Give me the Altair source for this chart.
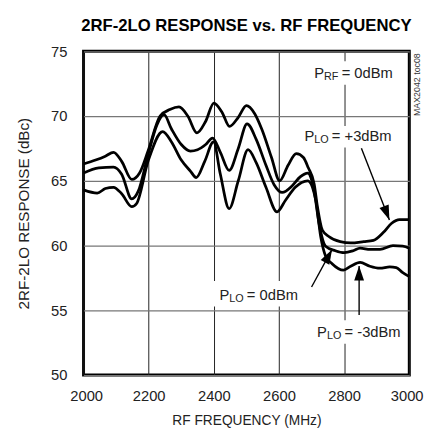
import altair as alt
import pandas as pd

# ---- data ----
freq_p3 = [2000, 2037, 2067, 2092, 2117, 2148, 2172, 2198, 2235, 2265, 2293, 2320, 2348, 2375, 2400,
           2425, 2448, 2475, 2500, 2525, 2547, 2577, 2602, 2628, 2653, 2675, 2690, 2708, 2718, 2733,
           2753, 2788, 2820, 2860, 2890, 2920, 2945, 2970, 3000]
resp_p3 = [66.3, 66.6, 66.9, 67.2, 66.5, 65.1, 65.6, 67.3, 70.0, 70.5, 70.7, 70.0, 68.7, 69.6, 71.0,
           70.3, 69.2, 69.9, 70.8, 70.2, 69.0, 66.8, 65.0, 66.2, 67.1, 66.8, 66.0, 64.75, 63.0, 61.2,
           60.7, 60.3, 60.2, 60.3, 60.4, 61.0, 61.7, 62.0, 62.0]

freq_0 = [2000, 2047, 2092, 2117, 2148, 2168, 2198, 2225, 2247, 2270, 2300, 2328, 2350, 2375, 2396,
          2420, 2447, 2475, 2502, 2530, 2560, 2585, 2610, 2640, 2665, 2688, 2708, 2723, 2743, 2773,
          2800, 2828, 2849, 2880, 2910, 2950, 2980, 3000]
resp_0 = [65.6, 66.0, 66.05, 65.5, 63.6, 64.2, 67.0, 69.3, 70.1, 69.0, 67.8, 67.3, 67.4, 67.8, 68.3,
          67.2, 65.8, 67.5, 69.4, 68.2, 66.2, 64.7, 64.1, 64.6, 65.3, 65.6, 64.2, 61.7, 59.95, 59.6,
          59.45, 59.6, 59.8, 59.7, 59.7, 60.0, 59.95, 59.8]

freq_m3 = [2000, 2042, 2067, 2092, 2117, 2148, 2163, 2198, 2243, 2270, 2300, 2328, 2346, 2372, 2399,
           2420, 2447, 2475, 2505, 2530, 2560, 2594, 2620, 2650, 2688, 2713, 2728, 2743, 2763, 2798,
           2820, 2849, 2879, 2910, 2940, 2960, 2980, 3000]
resp_m3 = [64.3, 64.05, 64.4, 64.5, 64.0, 63.0, 63.25, 66.5, 68.8, 68.0, 66.6, 65.75, 65.25, 66.5, 68.0,
           65.5, 62.85, 65.0, 67.4, 66.4, 64.5, 62.6, 63.5, 64.5, 65.0, 63.5, 60.7, 59.2, 58.6, 58.1,
           58.4, 58.7, 58.4, 58.25, 58.35, 58.3, 57.9, 57.6]

x_ticks = [2000, 2200, 2400, 2600, 2800, 3000]
y_ticks = [50, 55, 60, 65, 70, 75]

rows = []
for name, fs, vs in [("+3dBm", freq_p3, resp_p3), ("0dBm", freq_0, resp_0), ("-3dBm", freq_m3, resp_m3)]:
    rows += [{"series": name, "freq": f, "resp": v} for f, v in zip(fs, vs)]
df = pd.DataFrame(rows)

# annotations
labels = pd.DataFrame({
    "x": [2708, 2678, 2417, 2717],
    "y": [73.33, 68.48, 56.14, 53.33],
    "p": ["P", "P", "P", "P"],
    "sub": ["RF", "LO", "LO", "LO"],
    "rest": ["= 0dBm", "= +3dBm", "= 0dBm", "= -3dBm"],
})
label_bg = pd.DataFrame({
    "x": [2702, 2672, 2392, 2708],
    "x2": [2946, 2946, 2660, 2979],
    "y": [74.24, 69.24, 57.27, 54.24],
    "y2": [72.42, 67.58, 55.30, 52.42],
})
arrows = pd.DataFrame({
    "x0": [2853, 2700, 2846],
    "y0": [67.52, 56.8, 54.64],
    "x1": [2939, 2763, 2846],
    "y1": [61.97, 59.7, 58.43],
    "angle": [158.8, 28.7, 0.0],
})

FONT = "Liberation Sans, Arial, Helvetica, sans-serif"
TXT = "#222222"

xs = alt.Scale(domain=[2000, 3000], nice=False, zero=False)
ys = alt.Scale(domain=[50, 75], nice=False, zero=False)

x_axis = alt.Axis(title="RF FREQUENCY (MHz)", values=x_ticks, format="d", labelPadding=14,
                  labelFlush=True, labelFlushOffset=14, labelOverlap=False,
                  titlePadding=10, titleFontSize=14, gridColor="#222222", gridWidth=1)
y_axis = alt.Axis(title="2RF-2LO RESPONSE (dBc)", values=y_ticks, labelPadding=17,
                  labelFlush=False, labelOverlap=False,
                  titlePadding=19, titleFontSize=15.5, gridColor="#777777", gridWidth=1.3)

bg = alt.Chart(label_bg).mark_rect(color="white").encode(
    x=alt.X("x:Q", scale=xs, axis=x_axis), x2="x2:Q",
    y=alt.Y("y:Q", scale=ys, axis=y_axis), y2="y2:Q")

lines = alt.Chart(df).mark_line(color="black", strokeWidth=2.8, interpolate="monotone").encode(
    x=alt.X("freq:Q", scale=xs, axis=x_axis),
    y=alt.Y("resp:Q", scale=ys, axis=y_axis),
    detail="series:N")

arrow_lines = alt.Chart(arrows).mark_rule(color="black", strokeWidth=1.4).encode(
    x="x0:Q", y="y0:Q", x2="x1:Q", y2="y1:Q")

arrow_heads = alt.Chart(arrows).mark_point(
    shape="M0,0L0.5,1.5L-0.5,1.5Z", filled=True, color="black", opacity=1, size=400
).encode(x="x1:Q", y="y1:Q", angle=alt.Angle("angle:Q", scale=None))

t_p = alt.Chart(labels).mark_text(align="left", baseline="middle", font=FONT, fontSize=15, color=TXT).encode(
    x="x:Q", y="y:Q", text="p:N")
t_sub = alt.Chart(labels).mark_text(align="left", baseline="middle", font=FONT, fontSize=11, color=TXT,
                                    dx=10, dy=4).encode(x="x:Q", y="y:Q", text="sub:N")
t_rest = alt.Chart(labels).mark_text(align="left", baseline="middle", font=FONT, fontSize=15, color=TXT,
                                     dx=28).encode(x="x:Q", y="y:Q", text="rest:N")

wm = alt.Chart(pd.DataFrame({"t": ["MAX2042 toc08"]})).mark_text(
    font=FONT, fontSize=9, angle=270, color="#333333", align="center", baseline="middle"
).encode(x=alt.value(340), y=alt.value(34), text="t:N")

chart = alt.layer(bg, lines, arrow_lines, arrow_heads, t_p, t_sub, t_rest, wm).properties(
    width=332, height=330,
    title=alt.Title("2RF-2LO RESPONSE vs. RF FREQUENCY", font=FONT, fontSize=17, fontWeight="bold",
                    color="black", anchor="middle", offset=10),
    autosize=alt.AutoSizeParams(type="none"),
    padding={"left": 77, "top": 40, "right": 15, "bottom": 58},
).configure_view(
    stroke="black", strokeWidth=3
).configure_axis(
    domain=False, ticks=False, labelFont=FONT, titleFont=FONT, labelFontSize=15,
    labelColor=TXT, titleColor=TXT, titleFontWeight="normal", grid=True
)

chart.save("out.html", embed_options={"renderer": "svg", "actions": False})
